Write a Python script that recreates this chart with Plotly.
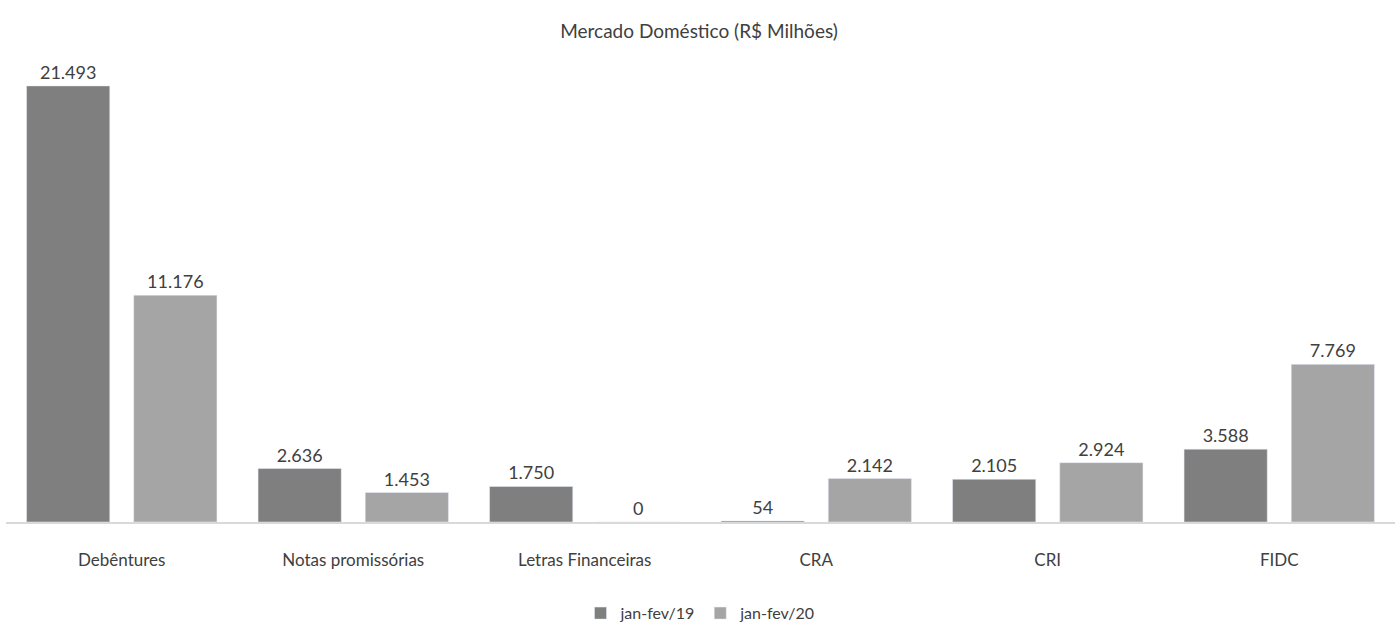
import plotly.graph_objects as go

categorias = ["Debêntures", "Notas promissórias", "Letras Financeiras", "CRA", "CRI", "FIDC"]
jan_fev_19 = [21493, 2636, 1750, 54, 2105, 3588]
jan_fev_20 = [11176, 1453, 0, 2142, 2924, 7769]

fonte = "Lato, 'Open Sans', sans-serif"
cor_texto = "#404040"

fig = go.Figure()
fig.add_trace(go.Bar(
    x=categorias, y=jan_fev_19, name="jan-fev/19",
    marker=dict(color="#7f7f7f"),
    text=jan_fev_19, texttemplate="%{y:,.0f}", textposition="outside",
    textfont=dict(size=18, color=cor_texto, family=fonte),
    cliponaxis=False,
))
fig.add_trace(go.Bar(
    x=categorias, y=jan_fev_20, name="jan-fev/20",
    marker=dict(color="#a5a5a5"),
    text=jan_fev_20, texttemplate="%{y:,.0f}", textposition="outside",
    textfont=dict(size=18, color=cor_texto, family=fonte),
    cliponaxis=False,
))

fig.update_layout(
    width=1398, height=627,
    margin=dict(l=6, r=3, t=40, b=105, autoexpand=False),
    paper_bgcolor="white", plot_bgcolor="white",
    separators=",.",
    barmode="group", bargap=0.074, bargroupgap=0.224,
    title=dict(text="Mercado Doméstico (R$ Milhões)", x=0.5, xanchor="center",
               y=0.95, yanchor="middle",
               font=dict(size=19, color=cor_texto, family=fonte)),
    font=dict(family=fonte, color=cor_texto),
    showlegend=True,
    legend=dict(orientation="h", x=0.5, xanchor="center",
                yref="container", y=0.022, yanchor="middle",
                font=dict(size=16, color=cor_texto, family=fonte),
                traceorder="normal"),
)
fig.update_xaxes(showline=True, linecolor="#d9d9d9", linewidth=1.5,
                 showgrid=False, ticks="", ticklabelstandoff=22,
                 tickfont=dict(size=17, color=cor_texto, family=fonte))
fig.update_yaxes(range=[0, 23756], visible=False, showgrid=False, zeroline=False)

fig.write_html("out.html")
